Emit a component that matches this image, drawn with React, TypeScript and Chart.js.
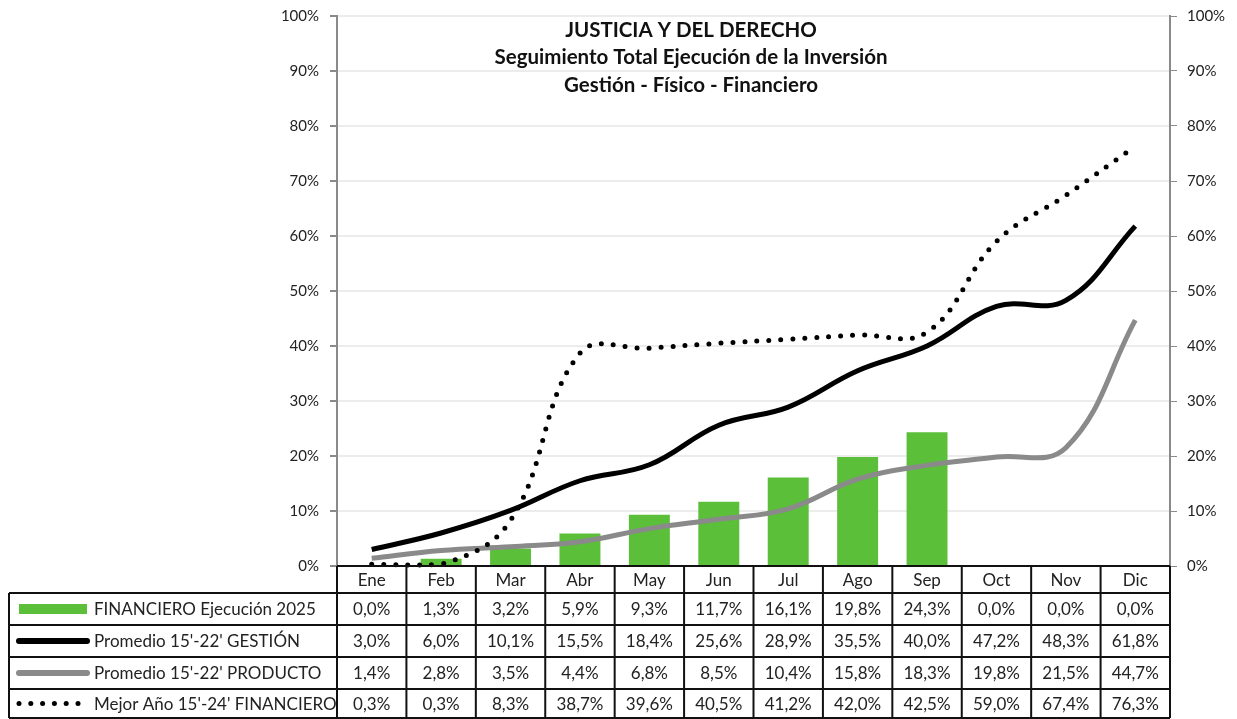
import React, { useEffect, useRef } from "react";
import { Chart, registerables } from "chart.js";

Chart.register(...registerables);

const categories = ["Ene", "Feb", "Mar", "Abr", "May", "Jun", "Jul", "Ago", "Sep", "Oct", "Nov", "Dic"];
const financiero2025 = [0.0, 1.3, 3.2, 5.9, 9.3, 11.7, 16.1, 19.8, 24.3, 0.0, 0.0, 0.0];
const gestion = [3.0, 6.0, 10.1, 15.5, 18.4, 25.6, 28.9, 35.5, 40.0, 47.2, 48.3, 61.8];
const producto = [1.4, 2.8, 3.5, 4.4, 6.8, 8.5, 10.4, 15.8, 18.3, 19.8, 21.5, 44.7];
const mejorAnio = [0.3, 0.3, 8.3, 38.7, 39.6, 40.5, 41.2, 42.0, 42.5, 59.0, 67.4, 76.3];

const seriesLabels = [
  "FINANCIERO Ejecución 2025",
  "Promedio 15'-22' GESTIÓN",
  "Promedio 15'-22' PRODUCTO",
  "Mejor Año 15'-24' FINANCIERO",
];
const titleLines = ["JUSTICIA Y DEL DERECHO", "Seguimiento Total Ejecución de la Inversión", "Gestión - Físico - Financiero"];

const FONT = "Lato, 'Noto Sans', sans-serif";
const GREEN = "#5BBF3A";
const GRAY = "#8a8a8a";

const fmt = (v: number) => v.toFixed(1).replace(".", ",") + "%";

const tablePlugin = {
  id: "tablePlugin",
  afterDraw(chart: any) {
    const ctx = chart.ctx;
    const xs = chart.scales.x;
    const area = chart.chartArea;
    const left = area.left;
    const right = area.right;
    const n = categories.length;
    const cw = (right - left) / n;
    const rows = [area.bottom, 593, 625, 657, 689, 718];
    const legendLeft = 9;

    ctx.save();
    // title
    ctx.fillStyle = "#111";
    ctx.font = `bold 20.5px ${FONT}`;
    ctx.textAlign = "center";
    ctx.textBaseline = "middle";
    const ty = [30, 57, 85];
    titleLines.forEach((t, i) => ctx.fillText(t, 691, ty[i]));

    // table lines
    ctx.strokeStyle = "#111";
    ctx.lineWidth = 2;
    ctx.beginPath();
    ctx.moveTo(left, rows[0]);
    ctx.lineTo(right, rows[0]);
    for (let r = 1; r < rows.length; r++) {
      ctx.moveTo(legendLeft, rows[r]);
      ctx.lineTo(right, rows[r]);
    }
    for (let c = 0; c <= n; c++) {
      const x = left + c * cw;
      ctx.moveTo(x, rows[0]);
      ctx.lineTo(x, rows[rows.length - 1]);
    }
    ctx.moveTo(legendLeft, rows[1]);
    ctx.lineTo(legendLeft, rows[rows.length - 1]);
    ctx.stroke();

    // header labels
    ctx.font = `17px ${FONT}`;
    ctx.fillStyle = "#222";
    ctx.textAlign = "center";
    categories.forEach((c, i) => {
      const x = xs.getPixelForValue(i);
      ctx.fillText(c, x, (rows[0] + rows[1]) / 2 + 1);
    });

    const data = [financiero2025, gestion, producto, mejorAnio];
    data.forEach((arr, r) => {
      const cy = (rows[r + 1] + rows[r + 2]) / 2 + 1;
      arr.forEach((v, i) => {
        const x = xs.getPixelForValue(i);
        ctx.fillText(fmt(v), x, cy);
      });
    });

    // legend
    ctx.textAlign = "left";
    seriesLabels.forEach((lab, r) => {
      const cy = (rows[r + 1] + rows[r + 2]) / 2;
      ctx.fillStyle = "#222";
      ctx.fillText(lab, 94, cy + 1);
      if (r === 0) {
        ctx.fillStyle = GREEN;
        ctx.fillRect(19, cy - 5, 68, 10);
      } else if (r === 1 || r === 2) {
        ctx.strokeStyle = r === 1 ? "#000" : GRAY;
        ctx.lineWidth = 6;
        ctx.lineCap = "round";
        ctx.beginPath();
        ctx.moveTo(19, cy);
        ctx.lineTo(87, cy);
        ctx.stroke();
      } else {
        ctx.fillStyle = "#000";
        for (let k = 0; k < 6; k++) {
          ctx.beginPath();
          ctx.arc(19 + k * 11.8, cy, 2.5, 0, Math.PI * 2);
          ctx.fill();
        }
      }
    });
    ctx.restore();
  },
};

export default function App() {
  const ref = useRef<HTMLCanvasElement | null>(null);
  useEffect(() => {
    if (!ref.current) return;
    const pct = (v: any) => v + "%";
    const chart = new Chart(ref.current, {
      type: "bar",
      data: {
        labels: categories,
        datasets: [
          {
            type: "line",
            label: seriesLabels[3],
            data: mejorAnio,
            borderColor: "#000",
            borderWidth: 5,
            borderDash: [0, 12],
            borderCapStyle: "round",
            pointRadius: 0,
            tension: 0.4,
            fill: false,
            order: 1,
            clip: false,
          } as any,
          {
            type: "line",
            label: seriesLabels[1],
            data: gestion,
            borderColor: "#000",
            borderWidth: 5,
            pointRadius: 0,
            tension: 0.4,
            fill: false,
            order: 2,
          } as any,
          {
            type: "line",
            label: seriesLabels[2],
            data: producto,
            borderColor: GRAY,
            borderWidth: 5,
            pointRadius: 0,
            tension: 0.4,
            fill: false,
            order: 3,
          } as any,
          {
            type: "bar",
            label: seriesLabels[0],
            data: financiero2025,
            backgroundColor: GREEN,
            barPercentage: 0.59,
            categoryPercentage: 1,
            order: 4,
          } as any,
        ],
      },
      options: {
        responsive: false,
        animation: false,
        layout: { padding: { left: 0, right: 0, top: 16, bottom: 153 } },
        plugins: { legend: { display: false }, title: { display: false }, tooltip: { enabled: false } },
        scales: {
          x: { display: false, offset: true },
          y: {
            position: "left",
            min: 0,
            max: 100,
            ticks: { stepSize: 10, callback: pct, color: "#222", font: { family: FONT, size: 15, lineHeight: 0.5 }, padding: 11 },
            grid: { color: "#ececec", lineWidth: 2, tickColor: GRAY, tickLength: 7, drawTicks: true },
            border: { color: GRAY, width: 2 },
            afterFit: (s: any) => { s.width = 337; },
          },
          y1: {
            position: "right",
            min: 0,
            max: 100,
            ticks: { stepSize: 10, callback: pct, color: "#222", font: { family: FONT, size: 15, lineHeight: 0.5 }, padding: 10 },
            grid: { drawOnChartArea: false, tickColor: GRAY, tickLength: 7, drawTicks: true },
            border: { color: GRAY, width: 2 },
            afterFit: (s: any) => { s.width = 67; },
          },
        },
      } as any,
      plugins: [tablePlugin],
    });
    return () => chart.destroy();
  }, []);
  return (
    <div style={{ position: "absolute", left: 0, top: 0, width: 1237, height: 719, background: "#fff" }}>
      <canvas ref={ref} width={1237} height={719} style={{ display: "block" }} />
    </div>
  );
}
